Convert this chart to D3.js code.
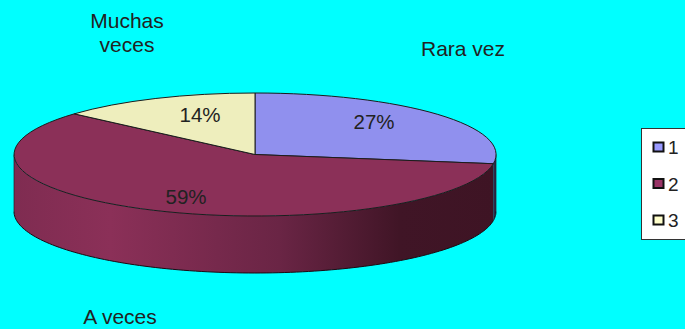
<!DOCTYPE html>
<html><head><meta charset="utf-8">
<script src="https://cdn.jsdelivr.net/npm/d3@7/dist/d3.min.js"></script>
<style>html,body{margin:0;padding:0;background:#00ffff;overflow:hidden}svg{display:block}text{font-family:"Liberation Sans",Arial,sans-serif;fill:#222}</style>
</head><body><svg id="c" width="685" height="329"></svg>
<script>
const legendKeys = ["1","2","3"];
const values = [27.4,59.1,13.5];
const percentLabels = ["27%","59%","14%"];
const colors = ["#9090ee","#8b3058","#eeeebd"];
const legendColors = ["#9999ff","#993366","#ffffcc"];
const wallStops = [[0,"#7f2c51"],[0.2,"#8b3058"],[0.55,"#6a2545"],[0.8,"#401526"],[1,"#3e1424"]];
const outerLabels = [{lines:["Rara vez"],x:463,y:56},{lines:["A veces"],x:120,y:324},{lines:["Muchas","veces"],x:127,y:28}];
const labelPos = [[374,129],[186,204],[200,122]];

const cx=255, cy=154.5, rx=241, ry=61.5, depth=57;
const svg=d3.select("#c");
const defs=svg.append("defs");
const grad=defs.append("linearGradient").attr("id","wall").attr("gradientUnits","userSpaceOnUse")
 .attr("x1",cx-rx).attr("x2",cx+rx).attr("y1",0).attr("y2",0);
wallStops.forEach(s=>grad.append("stop").attr("offset",s[0]).attr("stop-color",s[1]));

const arcs=d3.pie().sort(null)(values);
const px=a=>cx+rx*Math.sin(a), py=a=>cy-ry*Math.cos(a);

const front=[Math.PI/2,3*Math.PI/2];
const wallFill=["#2a2a4a","url(#wall)"];
arcs.forEach((d,i)=>{
  const a0=Math.max(d.startAngle,front[0]),a1=Math.min(d.endAngle,front[1]);
  if(a1<=a0) return;
  const angs=d3.range(0,121).map(k=>a0+(a1-a0)*k/120);
  const area=d3.area().x(a=>px(a)).y0(a=>py(a)).y1(a=>py(a)+depth);
  svg.append("path").attr("d",area(angs)).attr("fill",wallFill[i]).attr("stroke","none");
  const line=d3.line().x(a=>px(a)).y(a=>py(a)+depth);
  svg.append("path").attr("d",line(angs)).attr("fill","none").attr("stroke","#1a0a12").attr("stroke-width",1);
});
svg.append("path").attr("d",`M${cx-rx},${cy}V${cy+depth}M${cx+rx},${cy}V${cy+depth}`).attr("stroke","#2a1a25").attr("stroke-width",0.7);

const arc=d3.arc().innerRadius(0).outerRadius(1);
const topFace=svg.append("g").attr("transform",`translate(${cx},${cy}) scale(${rx},${ry})`);
topFace.selectAll("path").data(arcs).join("path")
 .attr("d",arc).attr("fill",(d,i)=>colors[i])
 .attr("stroke","#1c1c1c").attr("stroke-width",1).attr("vector-effect","non-scaling-stroke");

svg.selectAll("text.pct").data(percentLabels).join("text").attr("class","pct")
 .attr("x",(d,i)=>labelPos[i][0]).attr("y",(d,i)=>labelPos[i][1])
 .attr("text-anchor","middle").attr("font-size",20.5).text(d=>d);

outerLabels.forEach(l=>{l.lines.forEach((t,i)=>{
  svg.append("text").attr("x",l.x).attr("y",l.y+i*24).attr("text-anchor","middle").attr("font-size",21).text(t);
});});

svg.append("rect").attr("x",641.5).attr("y",128.5).attr("width",60).attr("height",111)
 .attr("fill","#fff").attr("stroke","#333").attr("stroke-width",1);
const ly=d3.scalePoint().domain(legendKeys).range([147,220]);
const leg=svg.selectAll("g.l").data(legendKeys).join("g").attr("class","l");
leg.append("rect").attr("x",653.5).attr("y",d=>ly(d)-4.5).attr("width",10).attr("height",9)
 .attr("fill",(d,i)=>legendColors[i]).attr("stroke","#111").attr("stroke-width",2);
leg.append("text").attr("x",668).attr("y",d=>ly(d)+7).attr("font-size",19).text(d=>d);
</script></body></html>
